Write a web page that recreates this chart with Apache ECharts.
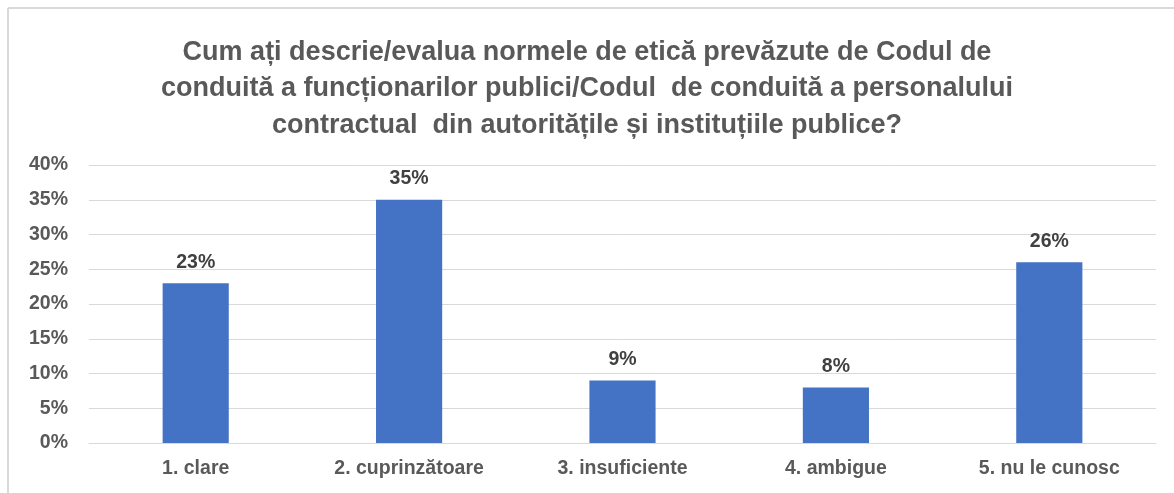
<!DOCTYPE html>
<html>
<head>
<meta charset="utf-8">
<script src="https://cdn.jsdelivr.net/npm/echarts@6/dist/echarts.min.js"></script>
<style>
  html, body { margin: 0; padding: 0; background: #ffffff; }
  #chart { width: 1174px; height: 493px; }
</style>
</head>
<body>
<div id="chart"></div>
<script>
// Survey answers: share of respondents per option
const categories = ['1. clare', '2. cuprinzătoare', '3. insuficiente', '4. ambigue', '5. nu le cunosc'];
const shares = [23, 35, 9, 8, 26];
const yTicks = [0, 5, 10, 15, 20, 25, 30, 35, 40];

const titleText = 'Cum ați descrie/evalua normele de etică prevăzute de Codul de\n' +
  'conduită a funcționarilor publici/Codul  de conduită a personalului\n' +
  'contractual  din autoritățile și instituțiile publice?';

const chart = echarts.init(document.getElementById('chart'));
chart.setOption({
  animation: false,
  backgroundColor: '#ffffff',
  title: {
    text: titleText,
    left: 'center',
    top: 29,
    textStyle: {
      fontFamily: 'Liberation Sans',
      fontWeight: 'bold',
      fontSize: 27,
      lineHeight: 36.5,
      color: '#595959'
    }
  },
  graphic: [
    { type: 'line', shape: { x1: 8, y1: 8, x2: 1174, y2: 8 }, style: { stroke: '#d9d9d9', lineWidth: 2 } },
    { type: 'line', shape: { x1: 8, y1: 8, x2: 8, y2: 493 }, style: { stroke: '#d9d9d9', lineWidth: 2 } }
  ],
  grid: { left: 89, right: 18, top: 165, bottom: 50, containLabel: false },
  xAxis: {
    type: 'category',
    data: categories,
    axisTick: { show: false },
    axisLine: { show: true, lineStyle: { color: '#d9d9d9', width: 1 } },
    axisLabel: {
      margin: 16,
      fontFamily: 'Liberation Sans',
      fontWeight: 'bold',
      fontSize: 19.5,
      color: '#595959'
    }
  },
  yAxis: {
    type: 'value',
    min: yTicks[0],
    max: yTicks[yTicks.length - 1],
    interval: 5,
    axisLine: { show: false },
    axisTick: { show: false },
    splitLine: { lineStyle: { color: '#d9d9d9', width: 1 } },
    axisLabel: {
      margin: 21,
      fontFamily: 'Liberation Sans',
      fontWeight: 'bold',
      fontSize: 19.5,
      color: '#595959',
      formatter: v => v + '%'
    }
  },
  series: [{
    type: 'bar',
    data: shares,
    barWidth: '31%',
    itemStyle: { color: '#4472c4' },
    label: {
      show: true,
      position: 'top',
      distance: 11,
      fontFamily: 'Liberation Sans',
      fontWeight: 'bold',
      fontSize: 19.5,
      color: '#404040',
      formatter: p => p.value + '%'
    }
  }]
});
</script>
</body>
</html>
